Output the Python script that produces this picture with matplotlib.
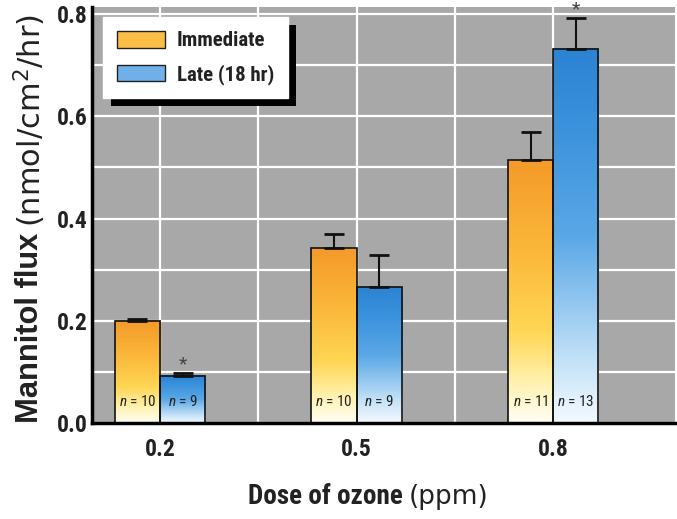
import matplotlib.pyplot as plt
import numpy as np
from matplotlib import font_manager
from matplotlib.colors import LinearSegmentedColormap
from matplotlib.patches import Patch, Rectangle

doses = ["0.2", "0.5", "0.8"]
immediate = [0.200, 0.342, 0.514]
immediate_err = [0.003, 0.028, 0.055]
late = [0.092, 0.266, 0.732]
late_err = [0.005, 0.063, 0.060]
n_immediate = [10, 10, 11]
n_late = [9, 9, 13]
late_significant = [True, False, True]

# pick a condensed sans if one is around
installed = {f.name for f in font_manager.fontManager.ttflist}
narrow = "DejaVu Sans"
for cand in ["Roboto Condensed", "Archivo Narrow", "PT Sans Narrow",
             "Liberation Sans Narrow", "Fira Sans Condensed"]:
    if cand in installed:
        narrow = cand
        break
wide = "Liberation Sans" if "Liberation Sans" in installed else "DejaVu Sans"
plt.rcParams["font.family"] = [narrow, "DejaVu Sans"]
plt.rcParams["mathtext.fontset"] = "custom"
plt.rcParams["mathtext.it"] = f"{narrow}:italic"
plt.rcParams["mathtext.rm"] = narrow

orange_cmap = LinearSegmentedColormap.from_list(
    "orange", [(0, "#fffef5"), (0.15, "#fff2b0"), (0.35, "#ffd654"),
               (0.65, "#fbb83a"), (1, "#f49a2a")])
blue_cmap = LinearSegmentedColormap.from_list(
    "blue", [(0, "#f4faff"), (0.2, "#b9dcf6"), (0.5, "#5aa7e6"),
             (0.8, "#3a91dc"), (1, "#2c83d3")])

fig = plt.figure(figsize=(6.77, 5.19), dpi=100)
ax = fig.add_axes([0.136, 0.185, 0.861, 0.8015])
ax.set_facecolor("#a8a8a8")

x = np.arange(len(doses))
width = 0.23

bars_imm = ax.bar(x - width / 2, immediate, width, facecolor="none",
                  edgecolor="#111111", linewidth=1.2, zorder=3)
bars_late = ax.bar(x + width / 2, late, width, facecolor="none",
                   edgecolor="#111111", linewidth=1.2, zorder=3)

# gradient fill inside each bar
grad = np.linspace(0, 1, 256).reshape(-1, 1)
for bars, cmap in ((bars_imm, orange_cmap), (bars_late, blue_cmap)):
    for b in bars:
        ax.imshow(grad, cmap=cmap, origin="lower", aspect="auto",
                  extent=[b.get_x(), b.get_x() + b.get_width(), 0, b.get_height()],
                  zorder=2)

# upper error bars only
ax.errorbar(x - width / 2, immediate, yerr=[np.zeros(3), immediate_err],
            fmt="none", ecolor="#111111", elinewidth=1.5, capsize=7,
            capthick=2, zorder=4)
ax.errorbar(x + width / 2, late, yerr=[np.zeros(3), late_err],
            fmt="none", ecolor="#111111", elinewidth=1.5, capsize=7,
            capthick=2, zorder=4)

for i in range(len(doses)):
    if late_significant[i]:
        ax.text(x[i] + width / 2, late[i] + late_err[i] + 0.017, "*",
                ha="center", va="center", fontsize=14, color="#444444",
                zorder=5, clip_on=False)
    ax.text(x[i] - width / 2, 0.042, f"$n$ = {n_immediate[i]}", ha="center",
            va="center", fontsize=11, zorder=5, color="#222222")
    ax.text(x[i] + width / 2, 0.042, f"$n$ = {n_late[i]}", ha="center",
            va="center", fontsize=11, zorder=5, color="#222222")

ax.set_xlim(-0.346, 2.62)
ax.set_ylim(0, 0.814)
ax.set_yticks([0, 0.2, 0.4, 0.6, 0.8])
ax.set_yticklabels(["0.0", "0.2", "0.4", "0.6", "0.8"])
ax.set_yticks(np.arange(0.1, 0.8, 0.2), minor=True)
ax.set_xticks(x)
ax.set_xticklabels(doses)
ax.set_xticks([0.5, 1.5], minor=True)
ax.tick_params(axis="both", which="both", length=0, labelsize=17)
ax.tick_params(axis="x", pad=11)
ax.tick_params(axis="y", pad=3)
for lab in ax.get_xticklabels() + ax.get_yticklabels():
    lab.set_fontweight("bold")
    lab.set_color("#222222")

ax.grid(True, which="both", color="white", linewidth=1.6, zorder=1)
ax.set_axisbelow(True)
for s in ("top", "right"):
    ax.spines[s].set_visible(False)
for s in ("left", "bottom"):
    ax.spines[s].set_linewidth(2.5)
    ax.spines[s].set_zorder(6)

handles = [Patch(facecolor="#fbbf45", edgecolor="#222222", label="Immediate"),
           Patch(facecolor="#6fb0e8", edgecolor="#222222", label="Late (18 hr)")]
leg = ax.legend(handles=handles, loc="upper left", bbox_to_anchor=(0.019, 0.975),
                frameon=True, fancybox=False, framealpha=1, edgecolor="white",
                prop={"size": 15, "weight": "bold"}, handlelength=2.3,
                handleheight=0.85, borderpad=0.65, labelspacing=0.65,
                handletextpad=0.6, borderaxespad=0)
leg.set_zorder(8)
for t in leg.get_texts():
    t.set_color("#222222")

fig.canvas.draw()
renderer = fig.canvas.get_renderer()
inv = fig.transFigure.inverted()


def fit_size(txt, target, along="y"):
    # scale the font so the text covers the target length in pixels
    for _ in range(3):
        fig.canvas.draw()
        ext = txt.get_window_extent(renderer)
        size = ext.height if along == "y" else ext.width
        txt.set_fontsize(txt.get_fontsize() * target / size)
    fig.canvas.draw()
    return txt.get_window_extent(renderer).transformed(inv)


# y label: bold part plus normal part
ylab_bold = fig.text(30 / 677, 1 - 423 / 519, "Mannitol flux", rotation=90,
                     ha="center", va="bottom", fontsize=20, fontweight="bold",
                     family=wide, color="#222222")
bb = fit_size(ylab_bold, 190, "y")
ylab_norm = fig.text(30 / 677, bb.y1 + 6 / 519, "(nmol/cm$^2$/hr)", rotation=90,
                     ha="center", va="bottom", fontsize=22,
                     family="DejaVu Sans", color="#222222")
ylab_norm.set_math_fontfamily("dejavusans")

# x label: bold part plus normal part
xlab_bold = fig.text(248 / 677, 1 - 497 / 519, "Dose of ozone", ha="left",
                     va="center", fontsize=21, fontweight="bold", color="#222222")
bb = fit_size(xlab_bold, 155, "x")
fig.text(bb.x1 + 6 / 677, 1 - 497 / 519, "(ppm)", ha="left",
         va="center", fontsize=19, family="DejaVu Sans", color="#222222")

# black drop shadow behind the legend
fig.canvas.draw()
lb = leg.get_window_extent(renderer)
ax.add_artist(Rectangle((lb.x0 + 8, lb.y0 - 8), lb.width, lb.height,
                        transform=None, facecolor="black", edgecolor="none",
                        zorder=7.5, clip_on=False))

fig.savefig("out.png", dpi=100)
